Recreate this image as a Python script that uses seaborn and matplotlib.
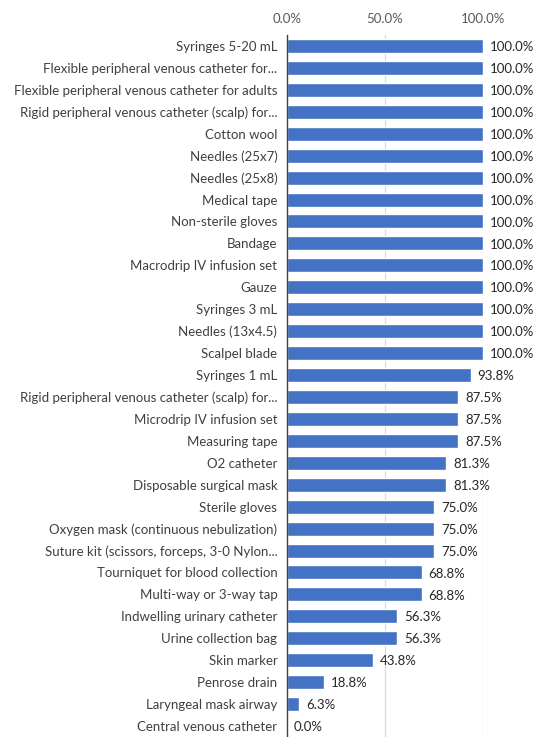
import matplotlib
matplotlib.use("Agg")
import matplotlib.pyplot as plt
import matplotlib.ticker as mticker
import seaborn as sns
import pandas as pd

items = [
    "Syringes 5-20 mL",
    "Flexible peripheral venous catheter for...",
    "Flexible peripheral venous catheter for adults",
    "Rigid peripheral venous catheter (scalp) for...",
    "Cotton wool",
    "Needles (25x7)",
    "Needles (25x8)",
    "Medical tape",
    "Non-sterile gloves",
    "Bandage",
    "Macrodrip IV infusion set",
    "Gauze",
    "Syringes 3 mL",
    "Needles (13x4.5)",
    "Scalpel blade",
    "Syringes 1 mL",
    "Rigid peripheral venous catheter (scalp) for...",
    "Microdrip IV infusion set",
    "Measuring tape",
    "O2 catheter",
    "Disposable surgical mask",
    "Sterile gloves",
    "Oxygen mask (continuous nebulization)",
    "Suture kit (scissors, forceps, 3-0 Nylon...",
    "Tourniquet for blood collection",
    "Multi-way or 3-way tap",
    "Indwelling urinary catheter",
    "Urine collection bag",
    "Skin marker",
    "Penrose drain",
    "Laryngeal mask airway",
    "Central venous catheter",
]
availability = [
    100.0, 100.0, 100.0, 100.0, 100.0, 100.0, 100.0, 100.0, 100.0, 100.0,
    100.0, 100.0, 100.0, 100.0, 100.0, 93.8, 87.5, 87.5, 87.5, 81.3,
    81.3, 75.0, 75.0, 75.0, 68.8, 68.8, 56.3, 56.3, 43.8, 18.8,
    6.3, 0.0,
]
x_ticks = [0.0, 50.0, 100.0]

df = pd.DataFrame({"item": [f"{i}|{n}" for i, n in enumerate(items)],
                   "pct": availability})

sns.set_theme(style="white")
plt.rcParams["font.family"] = ["Lato", "DejaVu Sans"]

fig = plt.figure(figsize=(5.42, 7.37), dpi=100)
ax = fig.add_axes([0.5295, 0.0, 0.3615, 0.9525])

sns.barplot(data=df, y="item", x="pct", orient="h", color="#4472C4",
            width=0.64, saturation=1, ax=ax, zorder=3)

ax.set_xlim(0, 100)
ax.set_ylim(len(items) - 0.5, -0.5)
ax.set_xticks(x_ticks)
ax.xaxis.set_major_formatter(mticker.FuncFormatter(lambda v, p: f"{v:.1f}%"))
ax.xaxis.tick_top()
ax.tick_params(axis="x", length=0, pad=7, labelsize=9.5, labelcolor="#595959")
ax.tick_params(axis="y", length=0, pad=7, labelsize=9.5, labelcolor="#404040")
ax.set_yticks(range(len(items)))
ax.set_yticklabels(items)
ax.set_xlabel("")
ax.set_ylabel("")

for v in x_ticks[1:]:
    ax.axvline(v, color="#D9D9D9", lw=0.9, zorder=1)

for s in ["top", "right", "bottom"]:
    ax.spines[s].set_visible(False)
ax.spines["left"].set_color("#404040")
ax.spines["left"].set_linewidth(1.0)
ax.spines["left"].set_zorder(4)

for i, v in enumerate(availability):
    ax.text(v + 3.5, i + 0.05, f"{v:.1f}%", va="center", ha="left",
            fontsize=9.5, color="#262626", clip_on=False)

fig.savefig("out.png", dpi=100, facecolor="white")
